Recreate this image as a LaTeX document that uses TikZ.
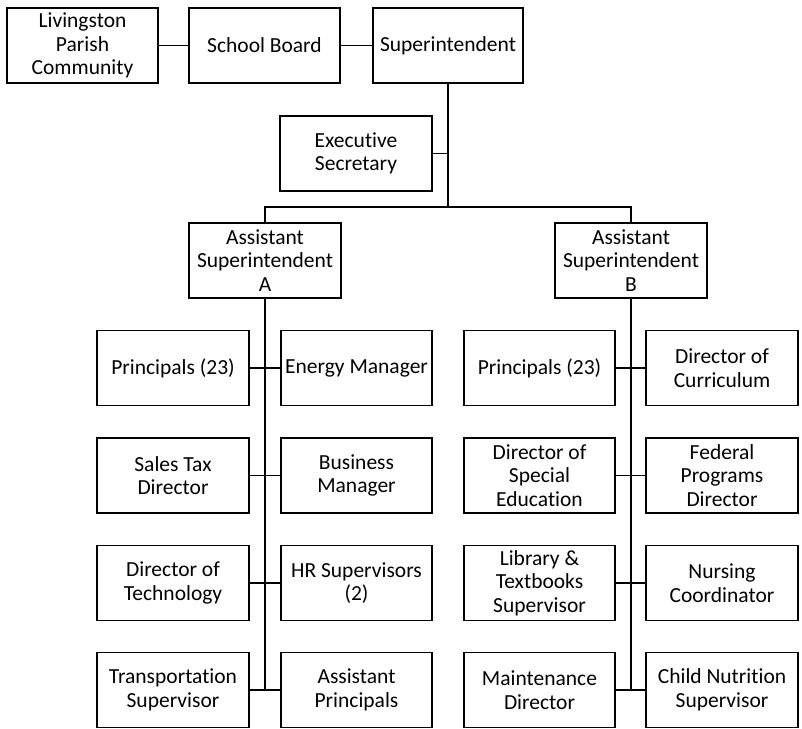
\documentclass[tikz,border=0pt]{standalone}
\usepackage{fontspec}
\setmainfont[Ligatures={NoCommon}]{Carlito}
\begin{document}
\begin{tikzpicture}[x=1pt,y=-1pt,
  box/.style={draw=black,line width=1.7pt,rectangle,minimum width=151pt,minimum height=75pt,
    inner sep=0pt,align=center,font=\fontsize{21.5}{23.5}\selectfont},
  conn/.style={draw=black,line width=1.9pt}]
\useasboundingbox (0,0) rectangle (802,728);
% top row
\node[box] (liv) at (82.5,45.5) {Livingston\\Parish\\Community};
\node[box] (sb) at (264.5,45.5) {School Board};
\node[box,minimum width=150pt] (sup) at (448,45.5) {Superintendent};
\node[box,minimum width=152pt] (exec) at (356,153.5) {Executive\\Secretary};
\node[box,minimum width=152pt] (aa) at (265,260.5) {Assistant\\Superintendent\\A};
\node[box,minimum width=152pt] (ab) at (631,260.5) {Assistant\\Superintendent\\B};
% A column
\node[box,minimum width=152pt] (a1l) at (173,368) {Principals (23)};
\node[box] (a1r) at (356.5,368) {Energy Manager};
\node[box,minimum width=152pt] (a2l) at (173,475.5) {Sales Tax\\Director};
\node[box] (a2r) at (356.5,475.5) {Business\\Manager};
\node[box,minimum width=152pt] (a3l) at (173,583) {Director of\\Technology};
\node[box] (a3r) at (356.5,583) {HR Supervisors\\(2)};
\node[box,minimum width=152pt] (a4l) at (173,690) {Transportation\\Supervisor};
\node[box] (a4r) at (356.5,690) {Assistant\\Principals};
% B column
\node[box] (b1l) at (539.5,368) {Principals (23)};
\node[box,minimum width=152pt] (b1r) at (722,368) {Director of\\Curriculum};
\node[box] (b2l) at (539.5,475.5) {Director of\\Special\\Education};
\node[box,minimum width=152pt] (b2r) at (722,475.5) {Federal\\Programs\\Director};
\node[box] (b3l) at (539.5,583) {Library \&\\Textbooks\\Supervisor};
\node[box,minimum width=152pt] (b3r) at (722,583) {Nursing\\Coordinator};
\node[box] (b4l) at (539.5,690) {Maintenance\\Director};
\node[box,minimum width=152pt] (b4r) at (722,690) {Child Nutrition\\Supervisor};
% connectors
\coordinate (br) at (448,207);
\draw[conn] (liv.east) -- (sb.west);
\draw[conn] (sb.east) -- (sup.west);
\draw[conn] (sup.south) -- (br);
\draw[conn] (exec.east) -- (exec.east -| sup.south);
\draw[conn] (aa.north) -- (aa.north |- br) -- (ab.north |- br) -- (ab.north);
\draw[conn] (aa.south) -- (aa.south |- a4l.east);
\draw[conn] (ab.south) -- (ab.south |- b4l.east);
\foreach \r in {1,2,3,4}{
  \draw[conn] (a\r l.east) -- (a\r r.west);
  \draw[conn] (b\r l.east) -- (b\r r.west);
}
\end{tikzpicture}
\end{document}
